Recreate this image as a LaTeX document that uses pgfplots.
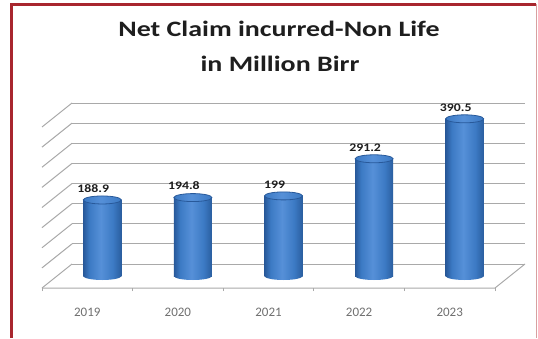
\documentclass[border=0pt]{standalone}
\usepackage{pgfplots}
\pgfplotsset{compat=1.18}
\usepackage{pgfplotstable}
\usepackage{fontspec}
\setmainfont{Carlito}
\usepackage{graphicx}

\definecolor{cdark}{HTML}{28599A}
\definecolor{cmid}{HTML}{3C7AC4}
\definecolor{clight}{HTML}{5690D8}
\definecolor{cedge}{HTML}{2A5E9F}
\definecolor{gridc}{HTML}{A9A9A9}
\definecolor{bordc}{HTML}{A8262E}
\definecolor{bordl}{HTML}{D8A0A0}
\definecolor{titlec}{HTML}{1E1E1E}
\definecolor{catc}{HTML}{707070}

\pgfdeclarehorizontalshading{cylsh}{100bp}{color(0bp)=(cdark); color(25bp)=(cdark); color(33bp)=(cmid); color(48bp)=(clight); color(64bp)=(cmid); color(75bp)=(cedge); color(100bp)=(cedge)}
\pgfdeclarehorizontalshading{capsh}{100bp}{color(0bp)=(cmid); color(25bp)=(cmid); color(48bp)=(clight); color(75bp)=(cmid); color(100bp)=(cmid)}

\pgfdeclareplotmark{cylbot}{%
  \pgfpathellipse{\pgfpointorigin}{\pgfqpoint{19pt}{0pt}}{\pgfqpoint{0pt}{4pt}}%
  \pgfshadepath{cylsh}{0}%
  \pgfusepath{}}
\pgfdeclareplotmark{cyltop}{%
  \pgfpathellipse{\pgfpointorigin}{\pgfqpoint{19pt}{0pt}}{\pgfqpoint{0pt}{4pt}}%
  \pgfshadepath{capsh}{0}%
  \pgfsetstrokecolor{cdark}\pgfsetlinewidth{0.8pt}%
  \pgfusepath{stroke}}

\pgfplotstableread{
x   v     lab
0.5 188.9 188.9
1.5 194.8 194.8
2.5 199   199
3.5 291.2 291.2
4.5 390.5 390.5
}\claims

\pgfplotsset{cylbody/.style={ybar, bar width=38pt, bar shift=0pt, draw=none, shade, shading=cylsh}}

\begin{document}
\begin{tikzpicture}[x=1pt,y=1pt]
\useasboundingbox (0,0) rectangle (538,338);
\fill[white] (0,0) rectangle (538,338);

% title
\node[anchor=base, font=\fontsize{22}{22}\selectfont\bfseries, text=titlec, inner sep=0pt] at (279,301.3) {\scalebox{1.27}[1]{Net Claim incurred-Non Life}};
\node[anchor=base, font=\fontsize{22}{22}\selectfont\bfseries, text=titlec, inner sep=0pt] at (280,266) {\scalebox{1.27}[1]{in Million Birr}};

% back wall
\begin{axis}[at={(72pt,74pt)}, anchor=south west, scale only axis,
  width=453pt, height=161pt, xmin=0, xmax=5, ymin=0, ymax=400,
  ytick={0,50,...,400}, yticklabel=\empty, xtick=\empty,
  ymajorgrids, grid style={gridc, line width=1pt},
  axis line style={draw=none}, major tick length=0pt, clip=false]
\addplot[draw=none] coordinates {(0,0)};
\end{axis}

% side wall and floor
\foreach \k in {0,...,8} {
  \draw[gridc, line width=1pt] (72,74+20.125*\k) -- (42,50+20.125*\k);
}
\draw[gridc, line width=1pt] (42,50) -- (495,50) -- (525,74);

% front axis: ticks and category labels
\begin{axis}[at={(42pt,50pt)}, anchor=south west, scale only axis,
  width=453pt, height=161pt, xmin=0, xmax=5, ymin=0, ymax=400,
  axis line style={draw=none}, ytick=\empty,
  xtick={0,1,2,3,4,5}, xticklabel=\empty, xtick pos=bottom,
  tick align=outside, major tick length=3pt,
  tick style={gridc, line width=0.8pt},
  extra x ticks={0.5,1.5,2.5,3.5,4.5},
  extra x tick labels={2019,2020,2021,2022,2023},
  extra x tick style={major tick length=0pt,
    xticklabel style={font=\fontsize{13}{13}\selectfont, text=catc, yshift=-17pt}},
  clip=false]
\addplot[draw=none] coordinates {(0,0)};
\end{axis}

% bars (mid depth)
\begin{axis}[at={(57pt,62pt)}, anchor=south west, scale only axis,
  width=453pt, height=161pt, xmin=0, xmax=5, ymin=0, ymax=400,
  hide axis, clip=false]
\addplot[only marks, mark=cylbot] table[x=x, y expr=0] {\claims};
\addplot[cylbody, restrict x to domain=0:1] table[x=x, y=v] {\claims};
\addplot[cylbody, restrict x to domain=1:2] table[x=x, y=v] {\claims};
\addplot[cylbody, restrict x to domain=2:3] table[x=x, y=v] {\claims};
\addplot[cylbody, restrict x to domain=3:4] table[x=x, y=v] {\claims};
\addplot[cylbody, restrict x to domain=4:5] table[x=x, y=v] {\claims};
\addplot[only marks, mark=cyltop] table[x=x, y=v] {\claims};
\addplot[draw=none, point meta=explicit symbolic,
  nodes near coords={\scalebox{1.2}[1]{\pgfplotspointmeta}},
  every node near coord/.append style={font=\fontsize{11.5}{11.5}\selectfont\bfseries, text=titlec, xshift=-9pt, yshift=4pt}]
  table[x=x, y=v, meta=lab] {\claims};
\end{axis}

% border
\draw[bordc, line width=3pt] (11.7,0) -- (11.7,333.5) -- (535.5,333.5);
\draw[bordl, line width=1pt] (536.5,333.5) -- (536.5,0);
\end{tikzpicture}
\end{document}
